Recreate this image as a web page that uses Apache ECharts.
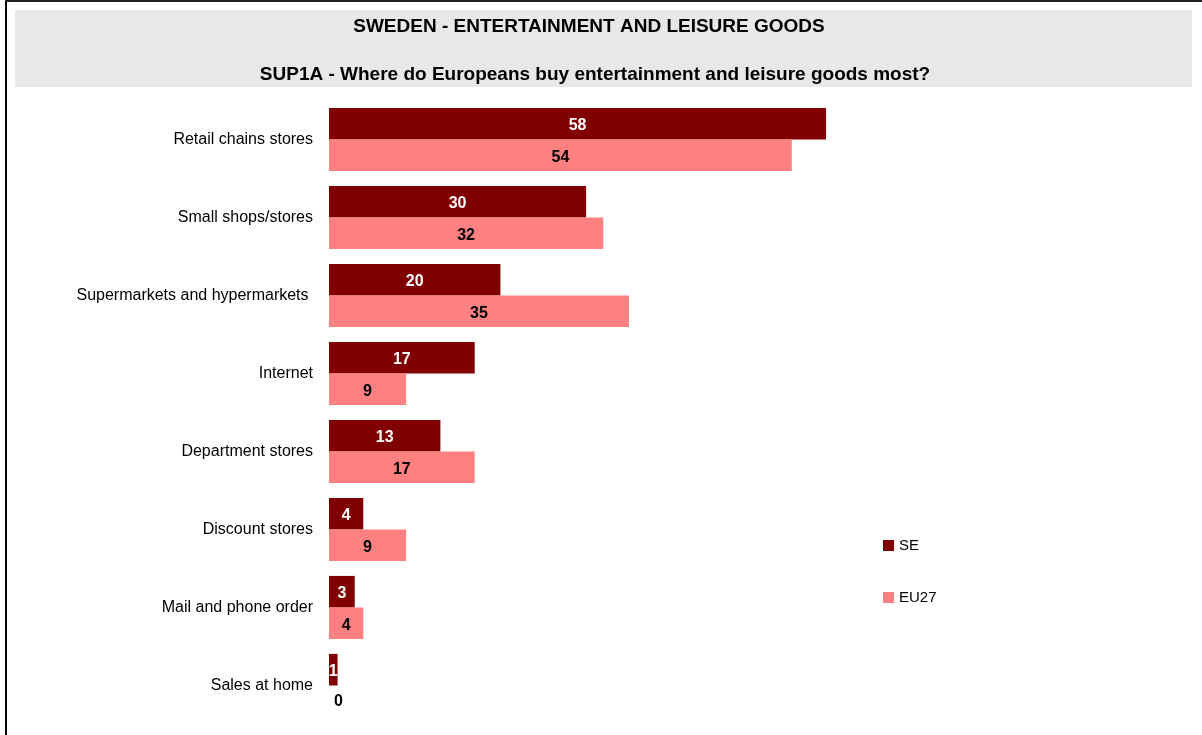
<!DOCTYPE html>
<html>
<head>
<meta charset="utf-8">
<title>Sweden - Entertainment and leisure goods</title>
<script src="https://cdn.jsdelivr.net/npm/echarts@6/dist/echarts.min.js"></script>
<style>
  html, body { margin: 0; padding: 0; background: #ffffff; }
  #chart { width: 1202px; height: 735px; }
</style>
</head>
<body>
<div id="chart"></div>
<script>
// Where people buy entertainment and leisure goods (% of respondents)
const categories = [
  'Retail chains stores',
  'Small shops/stores',
  'Supermarkets and hypermarkets ',
  'Internet',
  'Department stores',
  'Discount stores',
  'Mail and phone order',
  'Sales at home'
];
const seValues   = [58, 30, 20, 17, 13, 4, 3, 1];
const eu27Values = [54, 32, 35, 9, 17, 9, 4, 0];

const FONT = 'Arial, "Liberation Sans", sans-serif';
const SE_COLOR = '#800000';
const EU_COLOR = '#FF8080';

// Zero-width bars get their value written just to the right of the axis
function withLabels(values) {
  return values.map(v => v === 0
    ? { value: v, label: { position: 'right', distance: 5, offset: [0, 0] } }
    : v);
}

const valueLabel = (color) => ({
  show: true, position: 'inside', color: color, offset: [0, 2],
  fontFamily: FONT, fontSize: 16, fontWeight: 'bold'
});

const chart = echarts.init(document.getElementById('chart'), null, { renderer: 'canvas' });

chart.setOption({
  backgroundColor: '#ffffff',
  animation: false,
  title: [
    {
      text: 'SWEDEN - ENTERTAINMENT AND LEISURE GOODS',
      left: 584, top: 12, textAlign: 'center',
      textStyle: { fontFamily: FONT, fontSize: 19, fontWeight: 'bold', color: '#000' }
    },
    {
      text: 'SUP1A - Where do Europeans buy entertainment and leisure goods most?',
      left: 590, top: 60, textAlign: 'center',
      textStyle: { fontFamily: FONT, fontSize: 19, fontWeight: 'bold', color: '#000' }
    }
  ],
  graphic: [
    { type: 'rect', z: -10, shape: { x: 15, y: 10, width: 1177, height: 77 },
      style: { fill: '#E8E8E8' } },
    { type: 'rect', z: 10, shape: { x: 5, y: 0, width: 2, height: 735 },
      style: { fill: '#000' } },
    { type: 'rect', z: 10, shape: { x: 5, y: 0, width: 1197, height: 2 },
      style: { fill: '#222' } }
  ],
  legend: {
    orient: 'vertical',
    left: 883, top: 538,
    padding: 0,
    itemWidth: 11, itemHeight: 11,
    itemGap: 37,
    icon: 'rect',
    textStyle: { fontFamily: FONT, fontSize: 15, color: '#000', lineHeight: 15 },
    data: ['SE', 'EU27']
  },
  grid: { left: 329, top: 100.5, width: 857, height: 624, containLabel: false },
  xAxis: {
    type: 'value', min: 0, max: 100,
    show: false
  },
  yAxis: {
    type: 'category',
    data: categories,
    inverse: true,
    axisLine: { show: false },
    axisTick: { show: false },
    splitLine: { show: false },
    axisLabel: { fontFamily: FONT, fontSize: 16, color: '#000', margin: 16,
                 padding: [5, 0, 0, 0] }
  },
  series: [
    {
      name: 'SE', type: 'bar',
      data: withLabels(seValues),
      itemStyle: { color: SE_COLOR },
      barGap: '0%', barCategoryGap: '19%',
      label: valueLabel('#fff')
    },
    {
      name: 'EU27', type: 'bar',
      data: withLabels(eu27Values),
      itemStyle: { color: EU_COLOR },
      barGap: '0%', barCategoryGap: '19%',
      label: valueLabel('#000')
    }
  ]
});
</script>
</body>
</html>
